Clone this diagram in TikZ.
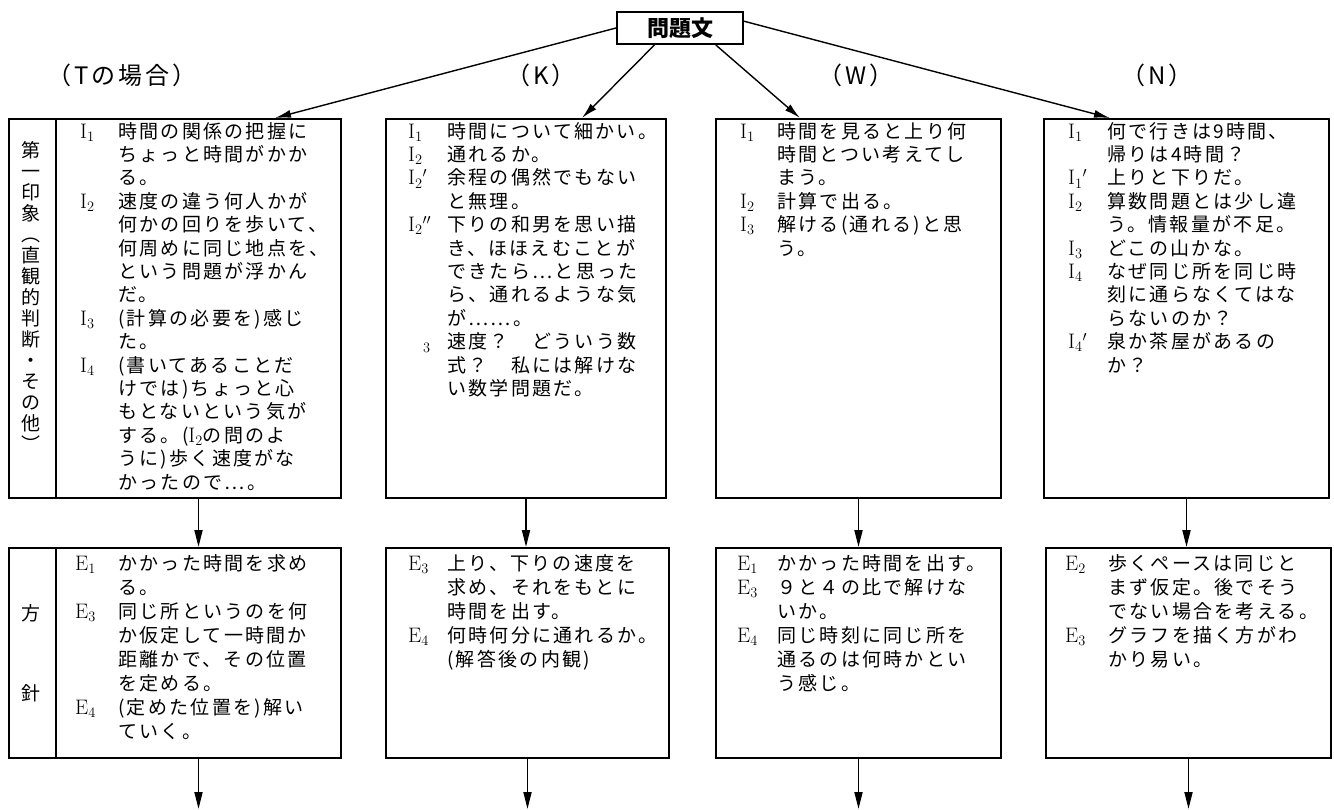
\documentclass[tikz,border=0pt]{standalone}
\usepackage{fontspec}
\newfontfamily\jp{Noto Sans CJK JP}[LetterSpace=12]
\newfontfamily\jpt{Noto Sans CJK JP}
\usetikzlibrary{arrows.meta,calc}
\newcommand\Lb[2]{{\fontsize{21}{23}\selectfont$\mathrm{#1}_{#2}$}}
\newcommand\Lp[2]{{\fontsize{21}{23}\selectfont$\mathrm{#1}_{#2}{}'$}}
\newcommand\Lpp[2]{{\fontsize{21}{23}\selectfont$\mathrm{#1}_{#2}{}''$}}
\tikzset{
  box/.style={draw, line width=2pt, anchor=north west, inner sep=0pt, minimum height=#1},
  txtT/.style={anchor=north west, inner sep=0pt, font=\jp\fontsize{19}{23.4}\selectfont},
  txtB/.style={anchor=north west, inner sep=0pt, font=\jp\fontsize{19}{24}\selectfont},
  head/.style={font=\jp\fontsize{24}{26}\selectfont, inner sep=0pt},
  side/.style={font=\jp\fontsize{19}{21}\selectfont, align=center, inner sep=0pt},
  toparrow/.style={line width=1.4pt, -{Latex[length=16pt,width=8pt]}},
  downarrow/.style={line width=1.8pt, -{Triangle[length=17pt,width=8pt]}}
}
\begin{document}
\begin{tikzpicture}[x=1pt,y=-1pt]
\useasboundingbox (0,0) rectangle (1334,809);
\fill[white] (0,0) rectangle (1334,809);

% title
\node[draw, line width=2pt, minimum width=126pt, minimum height=32pt, inner sep=0pt,
      font=\jpt\bfseries\fontsize{22}{24}\selectfont] (title) at (680,28) {問題文};

% headings
\node[head] (hT) at (122,75) {（Tの場合）};
\node[head] (hK) at (541,75) {（K）};
\node[head] (hW) at (856,75) {（W）};
\node[head] (hN) at (1157,75) {（N）};

% top boxes
\node[box=379pt, minimum width=47pt]  (T1s) at (8,118) {};
\node[box=379pt, minimum width=285pt] (T1) at (55,118) {};
\node[box=379pt, minimum width=280pt] (K1) at (385,118) {};
\node[box=379pt, minimum width=285pt] (W1) at (715,118) {};
\node[box=379pt, minimum width=285pt] (N1) at (1043,118) {};

% bottom boxes
\node[box=210pt, minimum width=47pt]  (T2s) at (8,547) {};
\node[box=210pt, minimum width=285pt] (T2) at (55,547) {};
\node[box=210pt, minimum width=283pt] (K2) at (385,547) {};
\node[box=210pt, minimum width=285pt] (W2) at (715,547) {};
\node[box=210pt, minimum width=285pt] (N2) at (1045,547) {};

% side labels
\node[side] (sideT1) at (31,296) {第\\一\\印\\象\\︵\\直\\観\\的\\判\\断\\・\\そ\\の\\他\\︶};
\node[side] (sideT2a) at (31,613) {方};
\node[side] (sideT2b) at (31,693) {針};

% top texts
\node[txtT] (T1t) at (80,121.6) {\begin{tabular}{@{}p{38pt}@{}l@{}}
\Lb I1 & 時間の関係の把握に\\
 & ちょっと時間がかか\\
 & る。\\
\Lb I2 & 速度の違う何人かが\\
 & 何かの回りを歩いて、\\
 & 何周めに同じ地点を、\\
 & という問題が浮かん\\
 & だ。\\
\Lb I3 & (計算の必要を)感じ\\
 & た。\\
\Lb I4 & (書いてあることだ\\
 & けでは)ちょっと心\\
 & もとないという気が\\
 & する。(\Lb I2の問のよ\\
 & うに)歩く速度がな\\
 & かったので⋯。
\end{tabular}};

\node[txtT] (K1t) at (408,121.6) {\begin{tabular}{@{}p{39pt}@{}l@{}}
\Lb I1 & 時間について細かい。\\
\Lb I2 & 通れるか。\\
\Lp I2 & 余程の偶然でもない\\
 & と無理。\\
\Lpp I2 & 下りの和男を思い描\\
 & き、ほほえむことが\\
 & できたら⋯と思った\\
 & ら、通れるような気\\
 & が⋯⋯。\\
\hspace*{15pt}$_3$ & 速度？　どういう数\\
 & 式？　私には解けな\\
 & い数学問題だ。
\end{tabular}};

\node[txtT] (W1t) at (740,121.6) {\begin{tabular}{@{}p{37pt}@{}l@{}}
\Lb I1 & 時間を見ると上り何\\
 & 時間とつい考えてし\\
 & まう。\\
\Lb I2 & 計算で出る。\\
\Lb I3 & 解ける(通れる)と思\\
 & う。
\end{tabular}};

\node[txtT] (N1t) at (1068,121.6) {\begin{tabular}{@{}p{39pt}@{}l@{}}
\Lb I1 & 何で行きは9時間、\\
 & 帰りは4時間？\\
\Lp I1 & 上りと下りだ。\\
\Lb I2 & 算数問題とは少し違\\
 & う。情報量が不足。\\
\Lb I3 & どこの山かな。\\
\Lb I4 & なぜ同じ所を同じ時\\
 & 刻に通らなくてはな\\
 & らないのか？\\
\Lp I4 & 泉か茶屋があるの\\
 & か？
\end{tabular}};

% bottom texts
\node[txtB] (T2t) at (75,553.2) {\begin{tabular}{@{}p{43pt}@{}l@{}}
\Lb E1 & かかった時間を求め\\
 & る。\\
\Lb E3 & 同じ所というのを何\\
 & か仮定して一時間か\\
 & 距離かで、その位置\\
 & を定める。\\
\Lb E4 & (定めた位置を)解い\\
 & ていく。
\end{tabular}};

\node[txtB] (K2t) at (408,553.2) {\begin{tabular}{@{}p{39pt}@{}l@{}}
\Lb E3 & 上り、下りの速度を\\
 & 求め、それをもとに\\
 & 時間を出す。\\
\Lb E4 & 何時何分に通れるか。\\
 & (解答後の内観)
\end{tabular}};

\node[txtB] (W2t) at (737,553.2) {\begin{tabular}{@{}p{40pt}@{}l@{}}
\Lb E1 & かかった時間を出す。\\
\Lb E3 & ９と４の比で解けな\\
 & いか。\\
\Lb E4 & 同じ時刻に同じ所を\\
 & 通るのは何時かとい\\
 & う感じ。
\end{tabular}};

\node[txtB] (N2t) at (1065,553.2) {\begin{tabular}{@{}p{43pt}@{}l@{}}
\Lb E2 & 歩くペースは同じと\\
 & まず仮定。後でそう\\
 & でない場合を考える。\\
\Lb E3 & グラフを描く方がわ\\
 & かり易い。
\end{tabular}};

% arrows from title
\coordinate (inT) at (275,118);
\coordinate (inK) at (582,118);
\coordinate (inW) at (800,118);
\coordinate (inN) at (1110,118);
\draw[toparrow] (title.west) -- (inT);
\draw[toparrow] ($(title.south west)!0.3!(title.south east)$) -- (inK);
\draw[toparrow] ($(title.south west)!0.78!(title.south east)$) -- (inW);
\draw[toparrow] ($(title.north east)!0.3!(title.south east)$) -- (inN);

% arrows between rows
\draw[downarrow] (T1.south) -- (T1.south |- T2.north);
\draw[downarrow] (K1.south) -- (K1.south |- K2.north);
\draw[downarrow] (W1.south) -- (W1.south |- W2.north);
\draw[downarrow] (N1.south) -- (N1.south |- N2.north);

% outgoing arrows
\coordinate (oT) at ($(T2.south)+(0,50)$);
\coordinate (oK) at ($(K2.south)+(0,50)$);
\coordinate (oW) at ($(W2.south)+(0,50)$);
\coordinate (oN) at ($(N2.south)+(0,50)$);
\draw[downarrow] (T2.south) -- (oT);
\draw[downarrow] (K2.south) -- (oK);
\draw[downarrow] (W2.south) -- (oW);
\draw[downarrow] (N2.south) -- (oN);
\end{tikzpicture}
\end{document}
